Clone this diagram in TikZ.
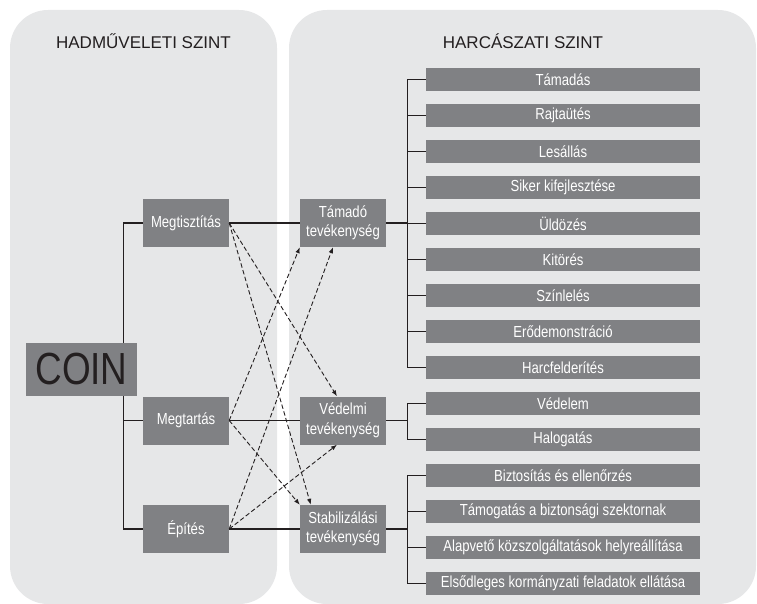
\documentclass[tikz,border=0pt]{standalone}
\usepackage{fontspec}
\setmainfont{Liberation Sans}
\newfontfamily\narrow{Liberation Sans}[FakeStretch=0.82]
\usetikzlibrary{calc,arrows.meta}
\definecolor{panel}{HTML}{E6E7E8}
\definecolor{boxg}{HTML}{808184}
\definecolor{ink}{HTML}{231F20}
\begin{document}
\begin{tikzpicture}[x=1pt,y=-1pt,
  box/.style={fill=boxg,text=white,inner sep=0pt,align=center,font=\narrow\fontsize{16}{19.5}\selectfont},
  opbox/.style={box,minimum width=86pt,minimum height=48pt},
  itembox/.style={box,minimum width=274pt,minimum height=23pt},
  conn/.style={draw=ink,line width=1.2pt},
  dasharrow/.style={draw=ink,line width=0.9pt,dash pattern=on 4.5pt off 2.5pt,-{Latex[length=6pt,width=4.5pt]}},
  heading/.style={text=ink,font=\fontsize{17}{20}\selectfont}]
\useasboundingbox (0,0) rectangle (757,604);
\fill[panel,rounded corners=38pt] (10,10) rectangle (277,604);
\fill[panel,rounded corners=38pt] (289,10) rectangle (756,604);
\node[heading] (h1) at (143.5,41) {HADMŰVELETI SZINT};
\node[heading] (h2) at (523,41) {HARCÁSZATI SZINT};
% operational and tactical boxes
\node[opbox] (mt) at (186,223) {Megtisztítás};
\node[opbox] (mg) at (186,420.5) {Megtartás};
\node[opbox] (ep) at (186,529) {Építés};
\node[opbox] (tam) at (343,223) {Támadó\\tevékenység};
\node[opbox] (vd) at (343,420.5) {Védelmi\\tevékenység};
\node[opbox] (st) at (343,529) {Stabilizálási\\tevékenység};
% item boxes
\foreach \t [count=\i] in {Támadás,Rajtaütés,Lesállás,Siker kifejlesztése,Üldözés,Kitörés,Színlelés,Erődemonstráció,Harcfelderítés,Védelem,Halogatás,Biztosítás és ellenőrzés,Támogatás a biztonsági szektornak,Alapvető közszolgáltatások helyreállítása,Elsődleges kormányzati feladatok ellátása}
  \node[itembox] (l\i) at (563,{79.5+36*(\i-1)}) {\t};
% brackets on the right
\coordinate (b) at ($(l1.west)+(-18,0)$);
\draw[conn] (l1.west) -- (l1.west -| b) |- (l9.west);
\foreach \i in {2,...,8} \draw[conn] (l\i.west) -- (l\i.west -| b);
\draw[conn] (tam.east) -- (tam.east -| b);
\draw[conn] (l10.west) -- (l10.west -| b) |- (l11.west);
\draw[conn] (vd.east) -- (vd.east -| b);
\draw[conn] (l12.west) -- (l12.west -| b) |- (l15.west);
\foreach \i in {13,14} \draw[conn] (l\i.west) -- (l\i.west -| b);
\draw[conn] (st.east) -- (st.east -| b);
% left tree
\coordinate (t) at ($(mt.west)+(-19,0)$);
\draw[conn] (mt.west) -- (t) |- (ep.west);
\draw[conn] (mg.west) -- (mg.west -| t);
% horizontal links
\draw[conn] (mt.east) -- (tam.west);
\draw[conn] (mg.east) -- (vd.west);
\draw[conn] (ep.east) -- (st.west);
% dashed cross links
\draw[dasharrow] (mt.east) -- ([xshift=-6pt]vd.north);
\draw[dasharrow] (mt.east) -- ([xshift=11pt]st.north west);
\draw[dasharrow] (mg.east) -- (tam.south west);
\draw[dasharrow] (mg.east) -- (st.north west);
\draw[dasharrow] (ep.east) -- ([xshift=-10pt]tam.south);
\draw[dasharrow] (ep.east) -- ([xshift=-6pt]vd.south);
% COIN
\node[fill=boxg,text=ink,inner sep=0pt,minimum width=111pt,minimum height=53pt,font=\narrow\fontsize{45}{45}\selectfont] (coin) at (81.5,369.5) {COIN};
\end{tikzpicture}
\end{document}
